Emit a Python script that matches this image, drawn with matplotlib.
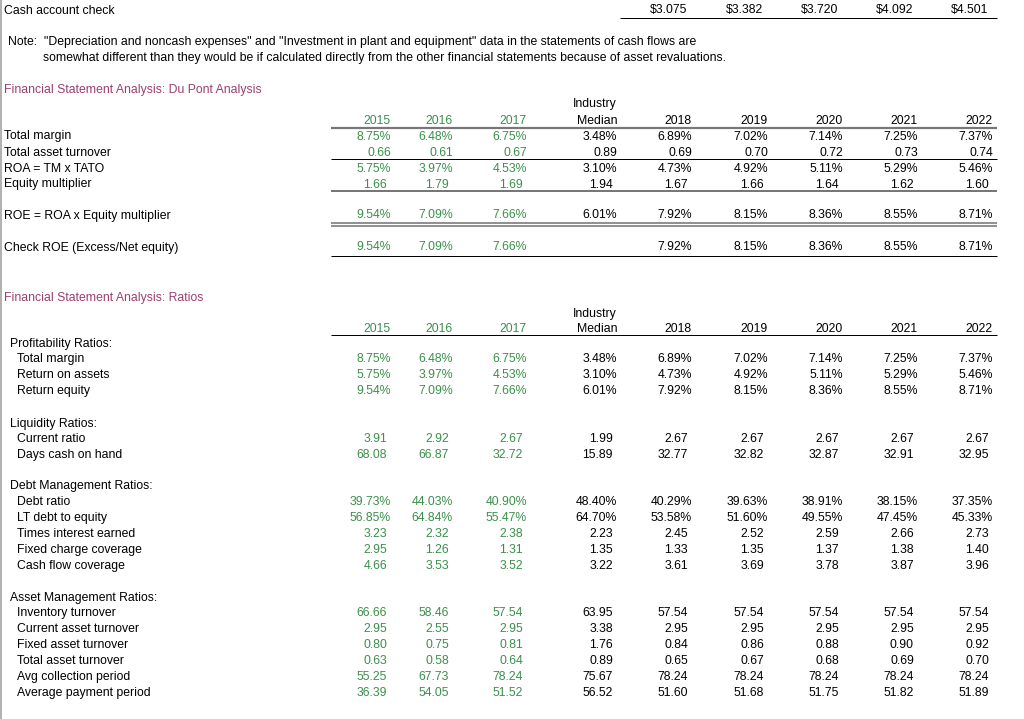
import matplotlib
matplotlib.use("Agg")
import matplotlib.pyplot as plt

# column headers
hist_years = ["2015", "2016", "2017"]
proj_years = ["2018", "2019", "2020", "2021", "2022"]

# cash account check (2018-2022)
cash_check = [3.075, 3.382, 3.720, 4.092, 4.501]

# Du Pont analysis: 2015, 2016, 2017, industry median, 2018..2022
dp_total_margin = [8.75, 6.48, 6.75, 3.48, 6.89, 7.02, 7.14, 7.25, 7.37]
dp_asset_turnover = [0.66, 0.61, 0.67, 0.89, 0.69, 0.70, 0.72, 0.73, 0.74]
dp_roa = [5.75, 3.97, 4.53, 3.10, 4.73, 4.92, 5.11, 5.29, 5.46]
dp_equity_mult = [1.66, 1.79, 1.69, 1.94, 1.67, 1.66, 1.64, 1.62, 1.60]
dp_roe = [9.54, 7.09, 7.66, 6.01, 7.92, 8.15, 8.36, 8.55, 8.71]
dp_check_roe = [9.54, 7.09, 7.66, None, 7.92, 8.15, 8.36, 8.55, 8.71]

# Ratios
total_margin = [8.75, 6.48, 6.75, 3.48, 6.89, 7.02, 7.14, 7.25, 7.37]
return_assets = [5.75, 3.97, 4.53, 3.10, 4.73, 4.92, 5.11, 5.29, 5.46]
return_equity = [9.54, 7.09, 7.66, 6.01, 7.92, 8.15, 8.36, 8.55, 8.71]
current_ratio = [3.91, 2.92, 2.67, 1.99, 2.67, 2.67, 2.67, 2.67, 2.67]
days_cash = [68.08, 66.87, 32.72, 15.89, 32.77, 32.82, 32.87, 32.91, 32.95]
debt_ratio = [39.73, 44.03, 40.90, 48.40, 40.29, 39.63, 38.91, 38.15, 37.35]
lt_debt_equity = [56.85, 64.84, 55.47, 64.70, 53.58, 51.60, 49.55, 47.45, 45.33]
times_interest = [3.23, 2.32, 2.38, 2.23, 2.45, 2.52, 2.59, 2.66, 2.73]
fixed_charge = [2.95, 1.26, 1.31, 1.35, 1.33, 1.35, 1.37, 1.38, 1.40]
cash_flow_cov = [4.66, 3.53, 3.52, 3.22, 3.61, 3.69, 3.78, 3.87, 3.96]
inventory_turn = [66.66, 58.46, 57.54, 63.95, 57.54, 57.54, 57.54, 57.54, 57.54]
current_asset_turn = [2.95, 2.55, 2.95, 3.38, 2.95, 2.95, 2.95, 2.95, 2.95]
fixed_asset_turn = [0.80, 0.75, 0.81, 1.76, 0.84, 0.86, 0.88, 0.90, 0.92]
total_asset_turn = [0.63, 0.58, 0.64, 0.89, 0.65, 0.67, 0.68, 0.69, 0.70]
avg_collection = [55.25, 67.73, 78.24, 75.67, 78.24, 78.24, 78.24, 78.24, 78.24]
avg_payment = [36.39, 54.05, 51.52, 56.52, 51.60, 51.68, 51.75, 51.82, 51.89]

GREEN = "#3b8f4b"
PURPLE = "#9a3f6f"
FS = 8.85
FONT = "Liberation Sans"

col_right = [391, 453, 527, 617, 692, 768, 843, 918, 993]

fig = plt.figure(figsize=(10.24, 7.19), dpi=100)
ax = fig.add_axes([0, 0, 1, 1])
ax.set_xlim(0, 1024)
ax.set_ylim(719, 0)
ax.axis("off")


def txt(x, y, s, color="black", ha="left"):
    # y is the visual centre of the capital letters
    ax.text(x, y + 4.5, s, fontsize=FS, family=FONT, color=color,
            ha=ha, va="baseline")


def hline(y, color="black", lw=1.0, x0=331, x1=997):
    ax.plot([x0, x1], [y, y], color=color, lw=lw * 0.72, solid_capstyle="butt")


def data_row(y, vals, pct=False, pad=None):
    if pad is None:
        pad = 0 if pct else 4
    for i, v in enumerate(vals):
        if v is None:
            continue
        s = "%.2f%%" % v if pct else "%.2f" % v
        txt(col_right[i] - pad, y, s, GREEN if i < 3 else "black", ha="right")


def header(y_top, y_bot):
    for i, yr in enumerate(hist_years):
        txt(col_right[i], y_bot, yr, GREEN, ha="right")
    txt(col_right[3], y_top, "Industry", ha="right")
    txt(col_right[3], y_bot, "Median", ha="right")
    for i, yr in enumerate(proj_years):
        txt(col_right[4 + i], y_bot, yr, ha="right")


# left border
ax.plot([1, 1], [0, 719], color="#b0b0b0", lw=1.4)

# cash account check
txt(4, 9, "Cash account check")
for i, v in enumerate(cash_check):
    txt(col_right[4 + i] - 5, 9, "$%.3f" % v, ha="right")
hline(17.5, x0=620)

txt(8, 41, 'Note:  "Depreciation and noncash expenses" and "Investment in plant and equipment" data in the statements of cash flows are')
txt(43, 57, "somewhat different than they would be if calculated directly from the other financial statements because of asset revaluations.")

# Du Pont analysis
txt(4, 88, "Financial Statement Analysis: Du Pont Analysis", PURPLE)
header(103, 119)
hline(127.5, color="#777777", lw=2.2)

txt(4, 135, "Total margin")
data_row(135, dp_total_margin, pct=True)
txt(4, 151, "Total asset turnover")
data_row(151, dp_asset_turnover, pad=0)
hline(159)
txt(4, 167, "ROA = TM x TATO")
data_row(167, dp_roa, pct=True)
txt(4, 183, "Equity multiplier")
data_row(183, dp_equity_mult)
hline(191, color="#777777", lw=2.0)

txt(4, 214, "ROE = ROA x Equity multiplier")
data_row(214, dp_roe, pct=True)
hline(223.3, color="#777777", lw=1.6)
hline(225.8, color="#777777", lw=1.6)

txt(4, 246, "Check ROE (Excess/Net equity)")
data_row(246, dp_check_roe, pct=True)
hline(256)

# Ratios
txt(4, 296, "Financial Statement Analysis: Ratios", PURPLE)
header(312, 328)
hline(335)

sections = [
    (342, "Profitability Ratios:", [
        ("Total margin", total_margin, True),
        ("Return on assets", return_assets, True),
        ("Return equity", return_equity, True),
    ]),
    (422, "Liquidity Ratios:", [
        ("Current ratio", current_ratio, False),
        ("Days cash on hand", days_cash, False),
    ]),
    (485, "Debt Management Ratios:", [
        ("Debt ratio", debt_ratio, True),
        ("LT debt to equity", lt_debt_equity, True),
        ("Times interest earned", times_interest, False),
        ("Fixed charge coverage", fixed_charge, False),
        ("Cash flow coverage", cash_flow_cov, False),
    ]),
    (596, "Asset Management Ratios:", [
        ("Inventory turnover", inventory_turn, False),
        ("Current asset turnover", current_asset_turn, False),
        ("Fixed asset turnover", fixed_asset_turn, False),
        ("Total asset turnover", total_asset_turn, False),
        ("Avg collection period", avg_collection, False),
        ("Average payment period", avg_payment, False),
    ]),
]

for y0, title, rows in sections:
    txt(10, y0, title)
    for k, (label, vals, pct) in enumerate(rows):
        y = y0 + 15.9 * (k + 1)
        txt(17, y, label)
        data_row(y, vals, pct=pct)

fig.savefig("out.png", dpi=100)
